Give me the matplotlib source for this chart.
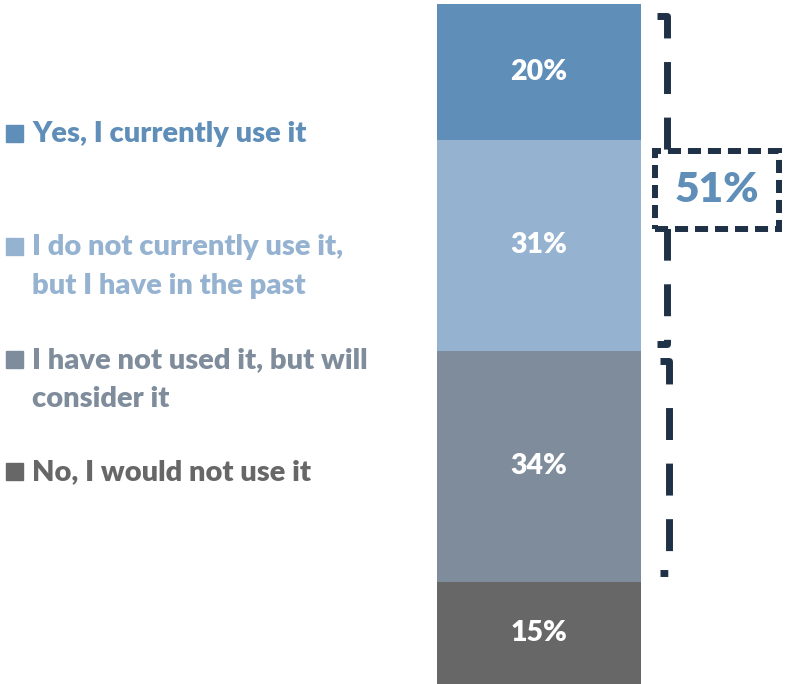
import matplotlib.pyplot as plt
from matplotlib.patches import Rectangle
import numpy as np

plt.rcParams['font.family'] = ['Lato', 'DejaVu Sans']
plt.rcParams['lines.scale_dashes'] = False

# survey answers, top of the stack first
answers = ['Yes, I currently use it',
           'I do not currently use it,\nbut I have in the past',
           'I have not used it, but will\nconsider it',
           'No, I would not use it']
shares = [20, 31, 34, 15]
colors = ['#5f8eb9', '#95b3d0', '#7f8c9b', '#676767']
total_label = '51%'

W, H = 785, 684
fig = plt.figure(figsize=(W / 100, H / 100), dpi=100)
ax = fig.add_axes([0, 0, 1, 1])
ax.set_xlim(0, W)
ax.set_ylim(0, 100 * H / 680)
ax.axis('off')

# stacked single bar, drawn bottom-up
bottoms = np.concatenate([[0], np.cumsum(shares[::-1])[:-1]])[::-1]
bar_x, bar_w = 539, 204
for val, b, c in zip(shares, bottoms, colors):
    ax.bar(bar_x, val, bottom=b, width=bar_w, color=c, linewidth=0)
    ax.text(bar_x, b + val / 2, f'{val}%', ha='center', va='center',
            color='white', fontsize=20.5, fontweight='heavy')

# legend on the left, positions in pixels from the top
def fy(py):
    return 1 - py / H

legend_base = [142, 255, 368, 480]
line_gap = 39
for lab, c, yb in zip(answers, colors, legend_base):
    fig.patches.append(Rectangle((6 / W, fy(yb)), 17 / W, 17 / H,
                                 transform=fig.transFigure, color=c))
    for i, line in enumerate(lab.split('\n')):
        fig.text(32 / W, fy(yb + i * line_gap), line, color=c, fontsize=21,
                 fontweight='heavy', va='baseline', ha='left')

# dashed brackets next to the bar
navy = '#1f3147'
dash = (0, (23, 17))
top_hi = 100 - 1.8
top_lo = bottoms[1] + 1.0
ax.plot([657, 667, 667, 657], [top_hi, top_hi, top_lo, top_lo],
        color=navy, lw=5, linestyle=dash, dash_capstyle='butt', zorder=3)
low_hi = bottoms[1] - 1.5
low_lo = bottoms[2] + 1.3
ax.plot([660, 669, 669, 660], [low_hi, low_hi, low_lo, low_lo],
        color=navy, lw=5, linestyle=dash, dash_capstyle='butt', zorder=3)

# box with the combined share of the top two answers
box_top = (H - 151) / 6.8
box_bot = (H - 229) / 6.8
ax.add_patch(Rectangle((655, box_bot), 124, box_top - box_bot,
                       facecolor='white', edgecolor=navy, lw=4.3,
                       linestyle=(0, (9.4, 5)), zorder=4))
ax.text(717, (box_top + box_bot) / 2, total_label, ha='center', va='center',
        color=colors[0], fontsize=30.5, fontweight='heavy', zorder=5)

fig.savefig('out.png', dpi=100)
